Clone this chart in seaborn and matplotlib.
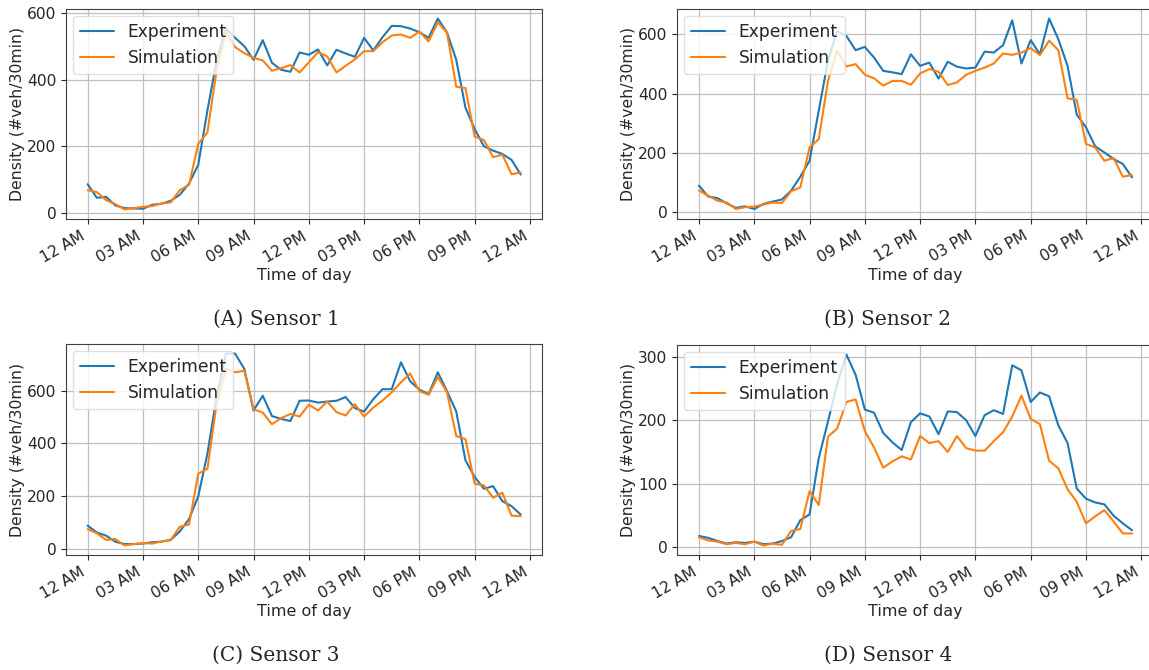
import numpy as np
import pandas as pd
import matplotlib
matplotlib.use("Agg")
import matplotlib.pyplot as plt
from matplotlib.ticker import MultipleLocator
import seaborn as sns

# time of day in hours, every 30 minutes
hours = [h * 0.5 for h in range(48)]
tick_hours = [0, 3, 6, 9, 12, 15, 18, 21, 24]
tick_labels = ["12 AM", "03 AM", "06 AM", "09 AM", "12 PM", "03 PM", "06 PM", "09 PM", "12 AM"]
y_steps = [200, 200, 200, 100]

s1_exp = [86, 45, 48, 22, 14, 13, 12, 24, 27, 36, 54, 88, 144, 308, 458, 554,
          526, 501, 460, 519, 451, 430, 424, 482, 475, 491, 443, 490, 479, 469, 526, 488,
          528, 562, 561, 554, 543, 526, 584, 542, 460, 316, 252, 200, 187, 177, 159, 115]
s1_sim = [68, 62, 38, 26, 10, 14, 18, 20, 28, 31, 68, 84, 207, 242, 430, 545,
          498, 480, 466, 458, 427, 435, 444, 422, 452, 483, 470, 422, 442, 461, 486, 486,
          513, 533, 536, 526, 545, 515, 573, 541, 379, 375, 229, 219, 167, 175, 116, 121]

s2_exp = [89, 52, 47, 29, 14, 19, 10, 27, 35, 42, 72, 119, 173, 342, 511, 612,
          595, 547, 558, 522, 477, 472, 466, 533, 494, 505, 451, 508, 491, 485, 488, 542,
          539, 564, 648, 502, 581, 533, 654, 584, 494, 329, 286, 222, 201, 179, 162, 117]
s2_sim = [72, 55, 38, 32, 10, 16, 18, 25, 32, 30, 70, 83, 218, 246, 443, 545,
          492, 500, 464, 452, 427, 443, 443, 430, 468, 483, 474, 429, 438, 464, 477, 488,
          502, 536, 531, 539, 554, 530, 579, 547, 384, 379, 230, 218, 173, 182, 119, 125]

s3_exp = [88, 62, 50, 27, 18, 18, 20, 25, 27, 34, 66, 113, 199, 362, 578, 741,
          741, 683, 525, 581, 504, 493, 485, 562, 563, 555, 559, 562, 576, 534, 521, 568,
          606, 606, 708, 636, 604, 587, 670, 598, 521, 336, 273, 228, 238, 181, 162, 130]
s3_sim = [75, 59, 34, 37, 13, 18, 22, 20, 28, 33, 84, 92, 285, 304, 553, 683,
          670, 676, 530, 517, 473, 496, 512, 502, 547, 525, 559, 519, 506, 549, 502, 536,
          563, 594, 632, 665, 598, 585, 652, 594, 428, 417, 247, 241, 194, 213, 126, 124]

s4_exp = [17, 14, 9, 5, 7, 6, 8, 4, 5, 9, 15, 42, 51, 140, 198, 257,
          304, 272, 217, 212, 180, 165, 153, 197, 211, 206, 178, 214, 213, 200, 175, 208,
          216, 210, 287, 279, 229, 244, 238, 192, 164, 92, 76, 70, 67, 49, 37, 26]
s4_sim = [15, 10, 8, 4, 6, 4, 8, 2, 5, 3, 25, 28, 88, 66, 174, 187,
          229, 233, 183, 157, 125, 135, 143, 138, 175, 164, 167, 150, 175, 156, 152, 152,
          167, 181, 206, 239, 202, 194, 136, 124, 91, 71, 37, 48, 58, 40, 21, 21]

sensors = [("(A) Sensor 1", s1_exp, s1_sim),
           ("(B) Sensor 2", s2_exp, s2_sim),
           ("(C) Sensor 3", s3_exp, s3_sim),
           ("(D) Sensor 4", s4_exp, s4_sim)]

sns.set_style("whitegrid", {
    "axes.edgecolor": "0.25",
    "grid.color": "0.75",
    "xtick.bottom": True,
    "ytick.left": True,
    "axes.linewidth": 1.0,
})
plt.rcParams["font.family"] = ["DejaVu Sans"]
plt.rcParams["xtick.major.size"] = 3.5
plt.rcParams["ytick.major.size"] = 3.5
plt.rcParams["xtick.color"] = "0.15"
plt.rcParams["ytick.color"] = "0.15"

W, H = 1149, 670
fig = plt.figure(figsize=(W / 100, H / 100), dpi=100)

# axes rectangles in pixels: left, top, right, bottom
rects = [(66, 9, 542.4, 219),
         (677.3, 9, 1153.7, 218.5),
         (66, 344, 542.4, 555),
         (677.3, 345, 1153.7, 555)]
captions_pos = [(276, 319), (888, 319), (276, 655), (888, 655)]

for (cap, exp, sim), step, (l, t, r, b), (cx, cy) in zip(sensors, y_steps, rects, captions_pos):
    ax = fig.add_axes([l / W, 1 - b / H, (r - l) / W, (b - t) / H])
    df = pd.DataFrame({
        "hour": hours * 2,
        "density": exp + sim,
        "series": ["Experiment"] * len(exp) + ["Simulation"] * len(sim),
    })
    sns.lineplot(data=df, x="hour", y="density", hue="series",
                 palette=["tab:blue", "tab:orange"], linewidth=1.5, ax=ax)
    ax.set_xticks(tick_hours)
    ax.set_xticklabels(tick_labels, rotation=30, ha="right", fontsize=11.2)
    ax.yaxis.set_major_locator(MultipleLocator(step))
    ax.tick_params(axis="y", labelsize=11.2)
    ax.set_xlabel("Time of day", fontsize=11.5, labelpad=1.5)
    ax.set_ylabel("Density (#veh/30min)", fontsize=11.3, labelpad=1.5)
    for sp in ax.spines.values():
        sp.set_color("0.25")
    ax.grid(True, color="0.75", linewidth=0.9)
    ax.legend(loc="upper left", fontsize=12.3, frameon=True, framealpha=0.8,
              edgecolor="0.85", handlelength=2.0, borderaxespad=0.4)
    fig.text(cx / W, 1 - cy / H, cap, ha="center", va="center",
             fontsize=14.5, family="DejaVu Serif")

fig.savefig("out.png", dpi=100)
